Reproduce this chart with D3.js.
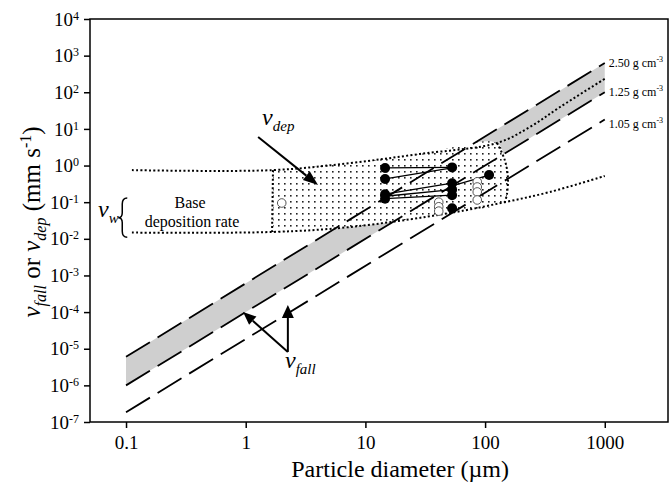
<!DOCTYPE html>
<html>
<head>
<meta charset="utf-8">
<script src="https://cdnjs.cloudflare.com/ajax/libs/d3/7.8.5/d3.min.js"></script>
<style>
  body { margin: 0; background: #fff; }
  svg { display: block; font-family: "Liberation Serif", "Times New Roman", serif; }
</style>
</head>
<body>
<div id="chart"></div>
<script>
// axis ticks
var xTicks = [0.1, 1, 10, 100, 1000];
var yTickExps = [-7, -6, -5, -4, -3, -2, -1, 0, 1, 2, 3, 4];

// fall velocity lines, end points  [diameter um, mm/s]
var fall250 = [[0.1, 6.0e-6], [1000, 630]];
var fall125 = [[0.1, 1.0e-6], [1000, 100]];
var fall105 = [[0.1, 1.85e-7], [1000, 18]];
var densityNames = ["2.50", "1.25", "1.05"];

// v_dep envelope (dotted)
var depUpper = [[0.112, 0.75], [1.69, 0.75], [7.43, 1.17], [28.6, 2.07], [126, 4.13], [237, 11.3], [423, 39.6], [1000, 233]];
var depLower = [[0.112, 0.0148], [1.69, 0.0154], [7.43, 0.021], [50.9, 0.0507], [146, 0.10], [348, 0.19], [1000, 0.52]];
var depRight = [[126, 4.13], [146, 1.42], [155, 0.49], [152, 0.16], [146, 0.10]];
var depLeft = [[1.69, 0.75], [1.66, 0.0154]];

// measured points
var filledPts = [[14.6, 0.86], [14.6, 0.43], [14.6, 0.165], [14.6, 0.125], [53, 0.89], [53, 0.33], [53, 0.22], [53, 0.155], [53, 0.068], [108, 0.55]];
var openPts = [[2.0, 0.095], [41, 0.10], [41, 0.075], [41, 0.057], [86, 0.36], [86, 0.26], [86, 0.19], [86, 0.115]];
var linkPairs = [
  [[14.6, 0.86], [53, 0.89]],
  [[14.6, 0.43], [53, 0.86]],
  [[14.6, 0.165], [53, 0.33]],
  [[14.6, 0.145], [53, 0.22]],
  [[14.6, 0.125], [53, 0.155]],
  [[53, 0.28], [108, 0.55]]
];

var svgWidth = 669, svgHeight = 486;
var margin = { top: 19, right: 1, bottom: 64, left: 90 };
var width = svgWidth - margin.left - margin.right;
var height = svgHeight - margin.top - margin.bottom;

var svg = d3.select("#chart").append("svg")
  .attr("width", svgWidth)
  .attr("height", svgHeight);

var chartGroup = svg.append("g")
  .attr("transform", `translate(${margin.left}, ${margin.top})`);

var x = d3.scaleLog().domain([0.05, 3375]).range([0, width]);
var y = d3.scaleLog().domain([1e-7, 1e4]).range([height, 0]);

var line = d3.line().x(d => x(d[0])).y(d => y(d[1]));
var smooth = d3.line().x(d => x(d[0])).y(d => y(d[1])).curve(d3.curveCatmullRom.alpha(0.5));

// patterns
var defs = svg.append("defs");
var pat = defs.append("pattern").attr("id", "stipple")
  .attr("patternUnits", "userSpaceOnUse").attr("width", 6).attr("height", 6);
pat.append("rect").attr("width", 6).attr("height", 6).attr("fill", "#fff");
pat.append("rect").attr("x", 2).attr("y", 2).attr("width", 1.6).attr("height", 1.6).attr("fill", "#222");

// gray band between 2.50 and 1.25 lines
chartGroup.append("path")
  .attr("d", line(fall250.concat(fall125.slice().reverse())) + "Z")
  .attr("fill", "#cfcfcf");

// stippled v_dep region
var region = depUpper.filter(p => p[0] >= 1.69 && p[0] <= 126)
  .concat(depRight.slice(1, -1))
  .concat(depLower.filter(p => p[0] >= 1.69 && p[0] <= 146).reverse());
chartGroup.append("path")
  .attr("d", smooth(region) + "Z")
  .attr("fill", "url(#stipple)");

// dashed fall lines
[fall250, fall125, fall105].forEach(function (ln) {
  chartGroup.append("path")
    .attr("d", line(ln))
    .attr("fill", "none")
    .attr("stroke", "#000")
    .attr("stroke-width", 1.8)
    .attr("stroke-dasharray", "28,9");
});

// dotted envelope
[depUpper, depLower, depRight, depLeft].forEach(function (ln) {
  chartGroup.append("path")
    .attr("d", smooth(ln))
    .attr("fill", "none")
    .attr("stroke", "#000")
    .attr("stroke-width", 2)
    .attr("stroke-dasharray", "2,2.3");
});

// density labels
[fall250, fall125, fall105].forEach(function (ln, i) {
  var end = ln[ln.length - 1];
  var t = chartGroup.append("text")
    .attr("x", x(end[0]) + 4)
    .attr("y", y(end[1]) + 4 + (i === 2 ? 4 : 0))
    .attr("font-size", 12);
  t.append("tspan").text(densityNames[i] + " g cm");
  t.append("tspan").attr("font-size", 8).attr("dy", -5).text("-3");
});

// connecting lines
chartGroup.append("g").selectAll("path")
  .data(linkPairs)
  .enter()
  .append("path")
  .attr("d", d => line(d))
  .attr("stroke", "#000")
  .attr("stroke-width", 1.3)
  .attr("fill", "none");

// points
chartGroup.append("g").selectAll("circle")
  .data(openPts)
  .enter()
  .append("circle")
  .attr("cx", d => x(d[0]))
  .attr("cy", d => y(d[1]))
  .attr("r", 4.3)
  .attr("fill", "#fff")
  .attr("stroke", "#555")
  .attr("stroke-width", 1);

chartGroup.append("g").selectAll("circle")
  .data(filledPts)
  .enter()
  .append("circle")
  .attr("cx", d => x(d[0]))
  .attr("cy", d => y(d[1]))
  .attr("r", 5)
  .attr("fill", "#000");

// arrows
function arrow(p1, p2, len, w) {
  var x1 = x(p1[0]), y1 = y(p1[1]), x2 = x(p2[0]), y2 = y(p2[1]);
  var a = Math.atan2(y2 - y1, x2 - x1);
  var bx = x2 - len * Math.cos(a), by = y2 - len * Math.sin(a);
  var nx = -Math.sin(a) * w / 2, ny = Math.cos(a) * w / 2;
  chartGroup.append("line")
    .attr("x1", x1).attr("y1", y1).attr("x2", bx).attr("y2", by)
    .attr("stroke", "#000").attr("stroke-width", 2);
  chartGroup.append("path")
    .attr("d", `M${x2},${y2}L${bx + nx},${by + ny}L${bx - nx},${by - ny}Z`)
    .attr("fill", "#000");
}
arrow([1.27, 6.02], [4.02, 0.294], 15, 11);
arrow([2.25, 8.2e-6], [0.95, 1.0e-4], 13, 11);
arrow([2.25, 8.2e-6], [2.25, 1.56e-4], 13, 12);

// italic v with subscript labels
function vLabel(pos, sub) {
  var t = chartGroup.append("text")
    .attr("x", x(pos[0]))
    .attr("y", y(pos[1]))
    .attr("font-style", "italic");
  t.append("tspan").attr("font-size", 24).text("v");
  t.append("tspan").attr("font-size", 15).attr("dy", 6).text(sub);
}
vLabel([1.37, 12.8], "dep");
vLabel([2.13, 2.98e-6], "fall");
vLabel([0.0583, 0.0395], "w");

// brace for v_w
var bx0 = x(0.093), bTop = y(0.13), bBot = y(0.011), bMid = (bTop + bBot) / 2;
chartGroup.append("path")
  .attr("d", `M${bx0 + 5},${bTop} Q${bx0},${bTop} ${bx0},${bTop + 6} L${bx0},${bMid - 5} Q${bx0},${bMid} ${bx0 - 4},${bMid} Q${bx0},${bMid} ${bx0},${bMid + 5} L${bx0},${bBot - 6} Q${bx0},${bBot} ${bx0 + 5},${bBot}`)
  .attr("fill", "none")
  .attr("stroke", "#000")
  .attr("stroke-width", 1.5);

chartGroup.append("text")
  .attr("x", x(0.343)).attr("y", y(0.0695))
  .attr("text-anchor", "middle").attr("font-size", 16)
  .text("Base");
chartGroup.append("text")
  .attr("x", x(0.356)).attr("y", y(0.021))
  .attr("text-anchor", "middle").attr("font-size", 16)
  .text("deposition rate");

// axes
var bottomAxis = d3.axisBottom(x).tickValues(xTicks).tickSize(6).tickSizeOuter(0).tickPadding(8)
  .tickFormat(d => String(d));
var leftAxis = d3.axisLeft(y).tickValues(yTickExps.map(e => Math.pow(10, e))).tickSize(6).tickSizeOuter(0).tickPadding(5)
  .tickFormat("");

var xAxisG = chartGroup.append("g")
  .attr("transform", `translate(0, ${height})`)
  .call(bottomAxis);
xAxisG.selectAll("text").attr("font-size", 19).attr("font-family", "Liberation Serif").attr("fill", "#000");

var yAxisG = chartGroup.append("g").call(leftAxis);
yAxisG.selectAll(".tick text").each(function (d) {
  var t = d3.select(this).attr("font-size", 19).attr("font-family", "Liberation Serif").attr("fill", "#000");
  t.append("tspan").text("10");
  t.append("tspan").attr("font-size", 12).attr("dy", "-0.5em").text(Math.round(Math.log10(d)));
});
[xAxisG, yAxisG].forEach(function (g) {
  g.select(".domain").remove();
  g.selectAll(".tick line").attr("stroke", "#000").attr("stroke-width", 1.5);
});

// frame
chartGroup.append("rect")
  .attr("width", width).attr("height", height)
  .attr("fill", "none").attr("stroke", "#000").attr("stroke-width", 1.5);

// axis titles
chartGroup.append("text")
  .attr("x", x(19.5)).attr("y", height + 55)
  .attr("text-anchor", "middle").attr("font-size", 24)
  .text("Particle diameter (\u00b5m)");

var yt = chartGroup.append("text")
  .attr("transform", "rotate(-90)")
  .attr("x", -203)
  .attr("y", -50)
  .attr("text-anchor", "middle")
  .attr("font-size", 25);
yt.append("tspan").attr("font-style", "italic").text("v");
yt.append("tspan").attr("font-style", "italic").attr("font-size", 16).attr("dy", 6).text("fall");
yt.append("tspan").attr("dy", -6).text(" or ");
yt.append("tspan").attr("font-style", "italic").text("v");
yt.append("tspan").attr("font-style", "italic").attr("font-size", 16).attr("dy", 6).text("dep");
yt.append("tspan").attr("dy", -6).text(" (mm s");
yt.append("tspan").attr("font-size", 16).attr("dy", -9).text("-1");
yt.append("tspan").attr("dy", 9).text(")");
</script>
</body>
</html>
